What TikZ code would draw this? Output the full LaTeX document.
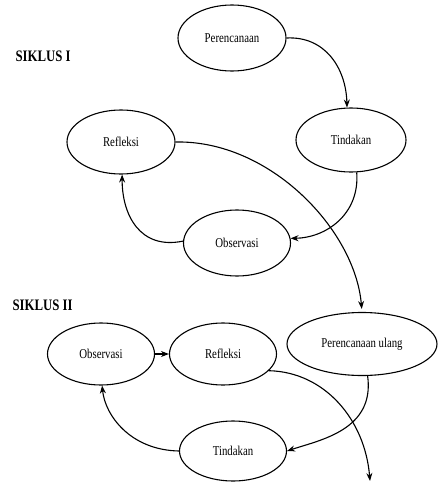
\documentclass[tikz,border=0pt]{standalone}
\usepackage{fontspec}
\usepackage{graphicx}
\setmainfont{Liberation Serif}
\usetikzlibrary{shapes.geometric,arrows.meta}
\newcommand\cndtxt[1]{\scalebox{0.8}[1]{#1}}
\tikzset{
  oval/.style={ellipse, draw, line width=1.1pt, inner sep=0pt, font=\fontsize{13.5}{15}\selectfont},
  conn/.style={line width=1.1pt, -{Stealth[length=8pt,width=6pt]}},
  cyc/.style={font=\bfseries\fontsize{16}{18}\selectfont, anchor=west}
}
\begin{document}
\begin{tikzpicture}[x=1pt,y=-1pt]
\useasboundingbox (0,0) rectangle (438,482);
\node[cyc] (s1) at (12,56) {\cndtxt{SIKLUS I}};
\node[cyc] (s2) at (9,305) {\cndtxt{SIKLUS II}};
\node[oval, minimum width=108pt, minimum height=66pt] (p) at (232,38) {\cndtxt{Perencanaan}};
\node[oval, minimum width=110pt, minimum height=64pt] (t) at (351,140) {\cndtxt{Tindakan}};
\node[oval, minimum width=108pt, minimum height=64pt] (r) at (121,142) {\cndtxt{Refleksi}};
\node[oval, minimum width=107pt, minimum height=66pt] (o) at (237,243) {\cndtxt{Observasi}};
\node[oval, minimum width=107pt, minimum height=62pt] (o2) at (101,354) {\cndtxt{Observasi}};
\node[oval, minimum width=107pt, minimum height=62pt] (r2) at (223,354) {\cndtxt{Refleksi}};
\node[oval, minimum width=150pt, minimum height=63pt] (pu) at (362,344) {\cndtxt{Perencanaan ulang}};
\node[oval, minimum width=107pt, minimum height=60pt] (t2) at (233,451) {\cndtxt{Tindakan}};
\coordinate (end) at (370,481);
\draw[conn] (p.east) .. controls (325,36) and (346,68) .. (t.97);
\draw[conn] (t.-80) .. controls (360,215) and (325,238) .. (o.5);
\draw[conn] (o.178) .. controls (140,250) and (122,215) .. (r.-88);
\draw[conn, shorten >=3pt] (r.east) .. controls (270,140) and (355,230) .. (pu.north);
\draw[conn] (o2.east) -- (r2.west);
\draw[conn] (r2.-20) .. controls (325,372) and (365,420) .. (end);
\draw[conn] (pu.-80) .. controls (375,430) and (320,440) .. (t2.east);
\draw[conn] (t2.west) .. controls (130,450) and (105,415) .. (o2.-88);
\end{tikzpicture}
\end{document}
